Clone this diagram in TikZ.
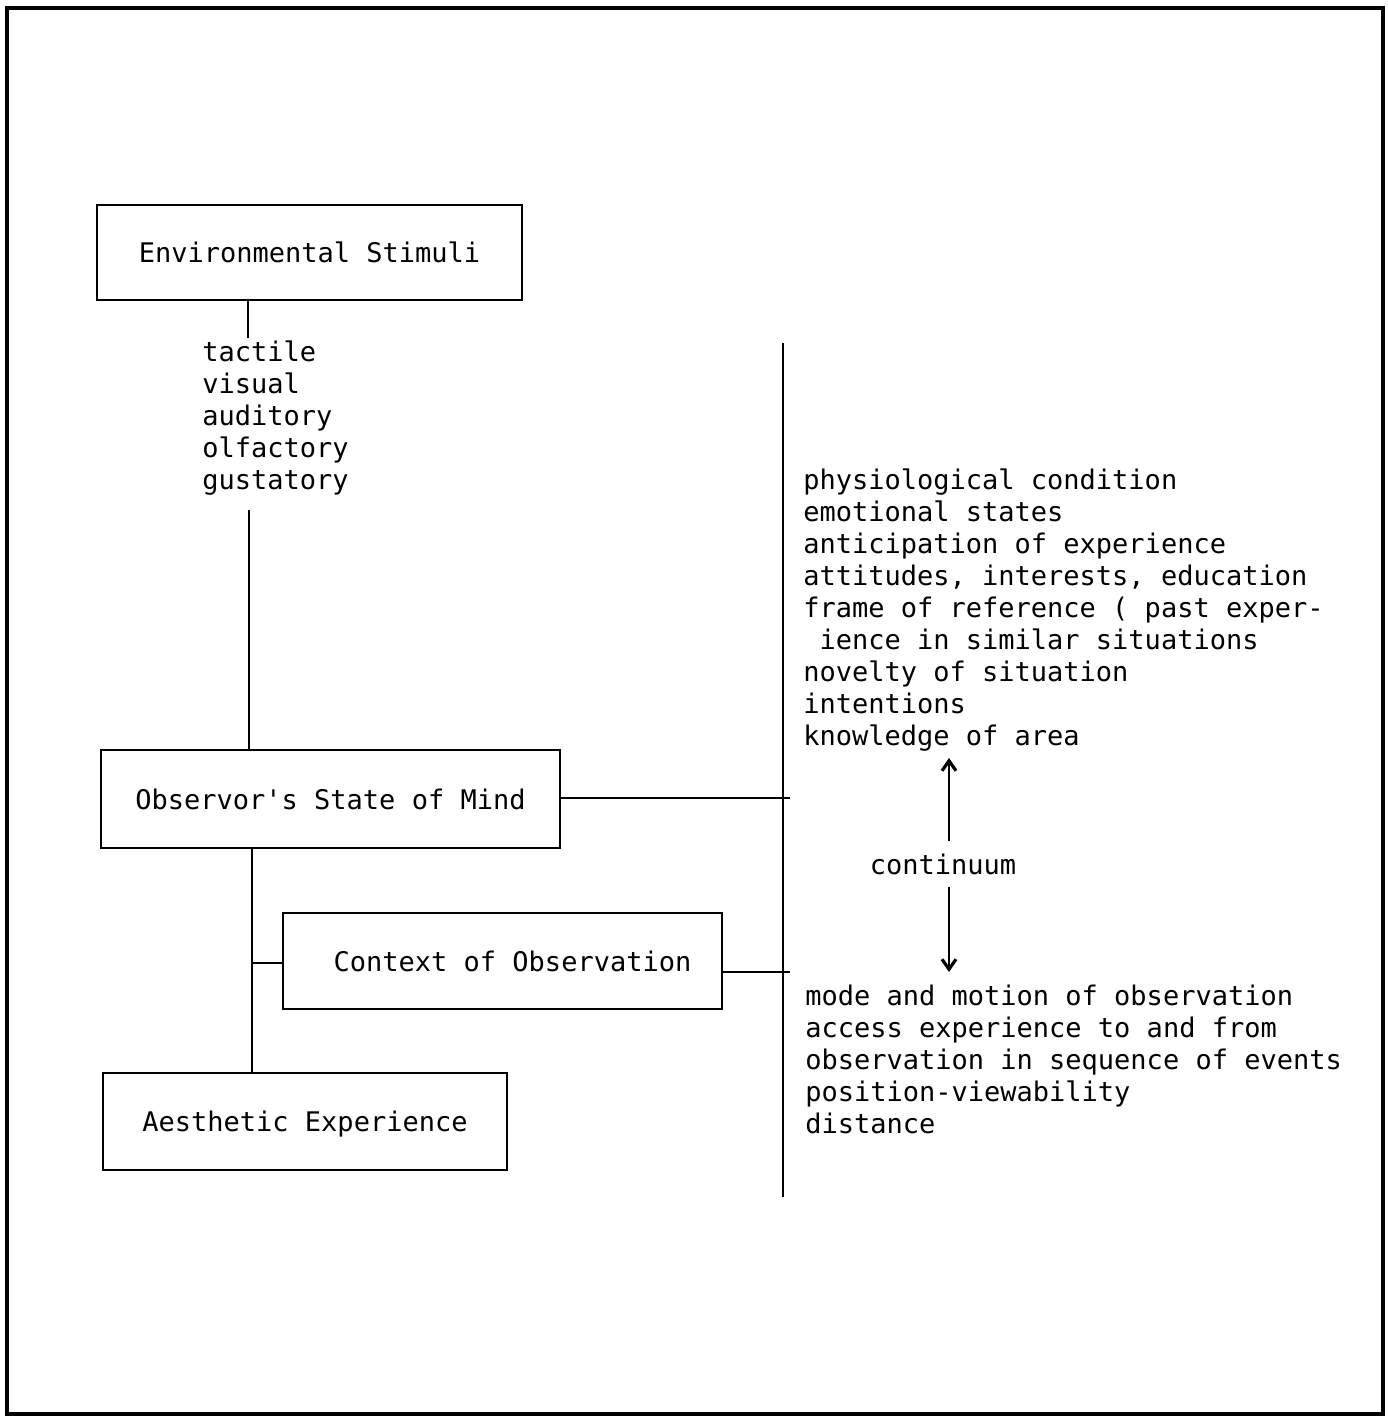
\documentclass[tikz,border=0pt]{standalone}
\usepackage{fontspec}
\newfontfamily\tw{DejaVu Sans Mono}
\usetikzlibrary{arrows.meta}
\begin{document}
\begin{tikzpicture}[x=0.5pt,y=-0.5pt]
\tikzset{
  twfont/.style={font=\tw\fontsize{13.5}{16}\selectfont},
  box/.style={draw, line width=1.4pt, inner sep=0pt, text height=10pt, text depth=0pt, twfont},
  lbl/.style={inner sep=0pt, anchor=base west, twfont},
  conn/.style={line width=1.4pt},
  arr/.style={line width=1.4pt, -{Straight Barb[length=5pt,width=7pt,line width=1.6pt]}},
  frame/.style={line width=1.8pt}
}
\useasboundingbox (0,0) rectangle (1387,1418);
\draw[frame] (7,8) rectangle (1383,1414);

% boxes
\node[box, minimum width=212.5pt, minimum height=47.5pt] (env) at (309.5,252.5) {Environmental Stimuli};
\node[box, minimum width=229.5pt, minimum height=49pt] (obs) at (330.5,799) {Observor's State of Mind};
\node[box, minimum width=219.5pt, minimum height=48pt] (ctx) at (502.5,961) {\hspace{10pt}Context of Observation};
\node[box, minimum width=202pt, minimum height=48.5pt] (aes) at (305,1121.5) {Aesthetic Experience};

% text lists
\node[lbl] (sens) at (202,361) {\begin{tabular}[t]{@{}l@{}}tactile\\visual\\auditory\\olfactory\\gustatory\end{tabular}};
\node[lbl] (mind) at (803,489) {\begin{tabular}[t]{@{}l@{}}physiological condition\\emotional states\\anticipation of experience\\attitudes, interests, education\\frame of reference ( past exper-\\\hphantom{x}ience in similar situations\\novelty of situation\\intentions\\knowledge of area\end{tabular}};
\node[lbl] (obsv) at (805,1005) {\begin{tabular}[t]{@{}l@{}}mode and motion of observation\\access experience to and from\\observation in sequence of events\\position-viewability\\distance\end{tabular}};
\node[box, draw=none, inner ysep=6pt] (cont) at (943,864) {continuum};

% connectors
\coordinate (a1) at (248,338);
\coordinate (a2) at (249,510);
\coordinate (tk) at (252,963);
\coordinate (vt) at (783,343);
\coordinate (vb) at (783,1197);
\coordinate (up) at (949,758);
\coordinate (dn) at (949,972);

\draw[conn] (env.south -| a1) -- (a1);
\draw[conn] (a2) -- (a2 |- obs.north);
\draw[conn] (obs.south -| tk) -- (aes.north -| tk);
\draw[conn] (tk) -- (ctx.west |- tk);
\draw[conn] (vt) -- (vb);
\draw[conn, shorten >=-3.5pt] ([yshift=0.5pt]obs.east) -- ([yshift=0.5pt]obs.east -| vt);
\draw[conn, shorten >=-3.5pt] ([yshift=-5.5pt]ctx.east) -- ([yshift=-5.5pt]ctx.east -| vt);
\draw[arr] (cont.north -| up) -- (up);
\draw[arr] (cont.south -| dn) -- (dn);
\end{tikzpicture}
\end{document}
